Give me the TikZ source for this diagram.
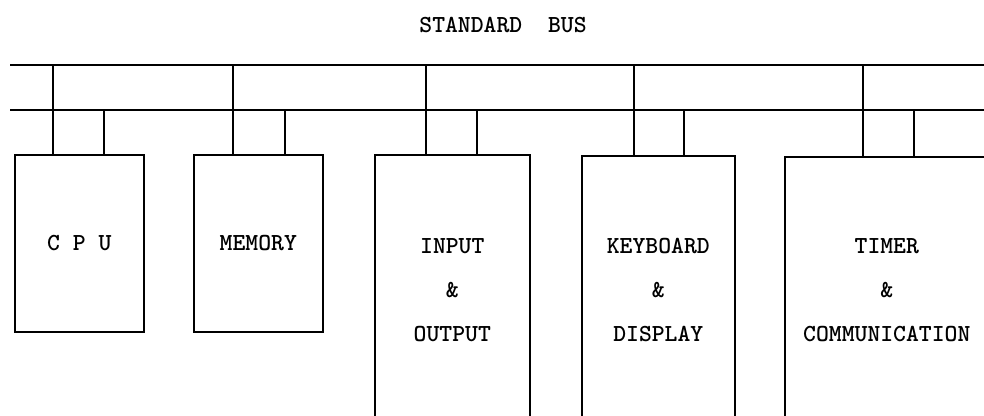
\documentclass[tikz,border=0pt]{standalone}
\usepackage{fontspec}
\usetikzlibrary{positioning}
\newcommand{\bustext}{\fontsize{24.5}{44}\selectfont\ttfamily\bfseries}

\begin{document}
\begin{tikzpicture}[x=1pt, y=-1pt,
    unit/.style={draw, line width=1.6pt, font=\bustext, align=center, inner sep=0pt, anchor=north west},
    wire/.style={line width=1.6pt}]
  \useasboundingbox (0,0) rectangle (984,415);
  \clip (0,0) rectangle (984,415);

  \node[font=\bustext] (title) at (503,25) {STANDARD\ \ BUS};

  % the two bus lines
  \coordinate (busA west) at (10,65);
  \coordinate (busA east) at (990,65);
  \coordinate (busB west) at (10,110);
  \coordinate (busB east) at (990,110);
  \draw[wire] (busA west) -- (busA east);
  \draw[wire] (busB west) -- (busB east);

  % units hanging on the bus
  \node[unit, minimum width=129pt, minimum height=177pt] (cpu) at (14,154) {C P U};
  \node[unit, minimum width=129pt, minimum height=177pt] (mem) at (193,154) {MEMORY};
  \node[unit, minimum width=155pt, minimum height=270pt] (io) at (374,154) {INPUT\\\&\\OUTPUT};
  \node[unit, minimum width=153pt, minimum height=268pt] (kbd) at (581,155) {KEYBOARD\\\&\\DISPLAY};
  \node[unit, minimum width=204pt, minimum height=266pt] (tmr) at (784,156) {TIMER\\\&\\COMMUNICATION};

  % taps: first from the upper line, second from the lower line
  \foreach \unitname/\xa/\xb in {cpu/53/104, mem/233/285, io/426/477, kbd/634/684, tmr/863/914} {
    \coordinate (tapA) at (\xa,65);
    \coordinate (tapB) at (\xb,110);
    \draw[wire] (tapA) -- (tapA |- \unitname.north);
    \draw[wire] (tapB) -- (tapB |- \unitname.north);
  }

\end{tikzpicture}
\end{document}
